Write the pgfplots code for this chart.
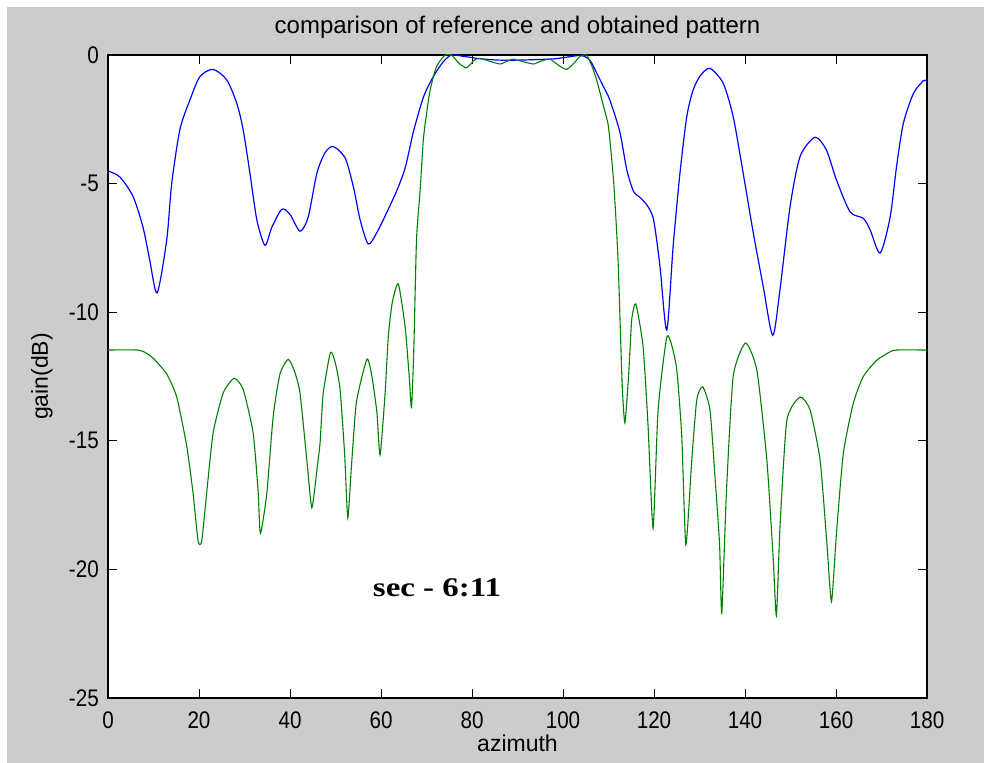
\documentclass[border=0pt]{standalone}
\usepackage{fontspec}
\setmainfont{Liberation Sans}
\newfontfamily\timesfont{Liberation Serif}[FakeStretch=1.22]
\newfontfamily\tickfont{Liberation Sans}[FakeStretch=0.86]
\usepackage{pgfplots}
\pgfplotsset{compat=1.18}
\definecolor{figgray}{RGB}{204,204,204}
\definecolor{mblue}{RGB}{0,0,255}
\definecolor{mgreen}{RGB}{0,128,0}
\begin{document}
\begin{tikzpicture}[x=1bp,y=1bp]
\fill[white] (0,0) rectangle (984,763);
\fill[figgray] (7,0) rectangle (984,756);
\begin{axis}[
  at={(108bp,65bp)}, anchor=south west,
  scale only axis, width=819bp, height=643bp,
  xmin=0, xmax=180, ymin=-25, ymax=0,
  xtick={0,20,...,180}, ytick={-25,-20,...,0},
  axis background/.style={fill=white},
  axis line style={black, line width=1.2pt},
  tick style={black, line width=1pt},
  major tick length=9bp,
  tick align=inside,
  tick pos=both,
  /pgf/number format/assume math mode=true,
  ticklabel style={font=\tickfont\fontsize{24bp}{27bp}\selectfont},
  xticklabel style={anchor=base, yshift=-31bp, inner sep=0pt},
  yticklabel style={anchor=east, xshift=-9bp, inner sep=0pt},
  title={comparison of reference and obtained pattern},
  title style={at={(axis description cs:0.5,1)}, anchor=base, yshift=16bp, inner sep=0pt, font=\fontsize{24bp}{28bp}\selectfont},
  xlabel={azimuth},
  xlabel style={at={(axis description cs:0.5,0)}, anchor=base, yshift=-54bp, inner sep=0pt, font=\fontsize{23bp}{26bp}\selectfont},
  ylabel={gain(dB)},
  ylabel style={at={(axis description cs:-0.0806,0.5)}, anchor=center, rotate=0, inner sep=0pt, font=\fontsize{23bp}{26bp}\selectfont},
  clip=true,
]
\addplot[mblue, line width=1.2pt, smooth, tension=0.45] coordinates {
(0,-4.51) (2.6,-4.74) (5.5,-5.5) (7.7,-6.7) (9.2,-8.0) (10.8,-9.25) (12.9,-7.2) (14.0,-5.0)
(15.8,-2.9) (18.0,-1.75) (20.2,-0.84) (23.1,-0.56) (26.1,-0.97) (28.3,-1.88) (29.7,-2.9)
(31.2,-4.6) (32.7,-6.4) (34.5,-7.4) (36.0,-6.7) (38.2,-6.0) (40.0,-6.2) (42.2,-6.85)
(44.0,-6.3) (45.9,-4.6) (47.7,-3.8) (49.5,-3.56) (52.1,-4.0) (53.9,-5.1) (55.4,-6.4)
(57.2,-7.35) (59.1,-6.9) (61.2,-6.15) (63.4,-5.3) (65.3,-4.4) (67.1,-3.0) (69.3,-1.65)
(71.5,-0.84) (73.7,-0.26) (75.5,0) (78,-0.05) (82,-0.15) (86,-0.2) (90,-0.2) (94,-0.18)
(98,-0.15) (101,-0.08) (104,-0.02) (105.9,-0.2) (107.4,-0.7) (108.8,-1.2) (110.3,-1.75)
(112.5,-3.0) (114.0,-4.45) (115.5,-5.3) (117.0,-5.55) (118.5,-5.85)
(119.9,-6.4) (121.3,-8.2) (122.8,-10.7) (124.2,-7.45) (125.7,-4.6) (127.2,-2.4)
(128.6,-1.36) (130.2,-0.8) (132.3,-0.52) (135.2,-1.1) (137.4,-2.4) (139.6,-4.6)
(141.8,-6.9) (144.0,-9.0) (146.1,-10.9) (147.7,-9.1) (149.9,-5.9) (152.1,-3.95)
(155.4,-3.2) (157.9,-3.7) (160.1,-4.86) (163.1,-6.1) (166.0,-6.35) (167.5,-6.8)
(169.7,-7.7) (171.9,-6.3) (173.3,-4.34) (174.8,-2.66) (177.0,-1.5) (179.2,-1.0) (180,-1.0)
};
\addplot[mgreen, line width=1.1pt, smooth, tension=0.35] coordinates {
(0,-11.47) (6.3,-11.47) (8,-11.55) (10.0,-11.8) (12.9,-12.4) (15.1,-13.3) (17.3,-15.2)
(18.7,-17.05) (19.8,-18.9) (20.6,-18.9) (21.7,-17.0) (23.1,-14.7) (25.3,-13.15)
(27.7,-12.57) (29.7,-13.0) (31.9,-14.7) (33.0,-17.0) (33.5,-18.6) (34.9,-17.05)
(36.3,-14.06) (37.8,-12.4) (39.6,-11.83) (41.0,-12.3) (42.2,-13.15) (43.7,-15.75)
(44.8,-17.6) (46.0,-16.0) (46.6,-15.1) (47.3,-13.15) (48.9,-11.56) (50.0,-12.0)
(51.0,-13.0) (52.0,-15.5) (52.7,-18.0) (53.5,-16.0) (54.6,-13.5) (56.9,-11.83)
(58.0,-12.5) (59.1,-13.9) (59.8,-15.55) (60.9,-13.15) (61.6,-10.95) (62.5,-9.6)
(63.8,-8.9) (65.3,-10.56) (66.2,-12.5) (66.7,-13.7) (67.2,-11.5) (67.8,-7.2)
(68.6,-5.25) (69.3,-3.3) (70.0,-2.3) (70.8,-1.36) (72.2,-0.45) (74.1,0) (75.5,0)
(77,-0.3) (78.8,-0.5) (80.5,-0.2) (81.8,-0.13) (84,-0.25) (86.2,-0.35) (88,-0.22)
(89.1,-0.16) (91,-0.25) (93.5,-0.35) (95,-0.25) (97.1,-0.16) (99,-0.4) (100.8,-0.56)
(102.5,-0.3) (103.7,-0.06) (105.2,0) (106.5,-0.5) (107.4,-0.97) (108.9,-2.0)
(110.0,-2.8) (111.1,-4.86) (111.8,-6.9) (112.2,-8.45) (113.0,-12.8) (113.6,-14.3)
(114.4,-12.5) (115.1,-10.3) (116.0,-9.68) (117.6,-11.34) (118.7,-14.45) (119.8,-18.4)
(120.9,-13.8) (122.9,-10.93) (124.9,-12.1) (126.1,-14.84) (127.0,-19.05) (128.3,-15.75)
(129.4,-13.4) (130.7,-12.9) (132.3,-13.8) (133.4,-16.4) (134.4,-19.0) (134.9,-21.7)
(135.9,-17.05) (137.4,-12.5) (140.1,-11.2) (142.6,-12.25) (144.8,-15.75) (146.2,-19.6)
(146.9,-21.8) (147.7,-18.3) (149.2,-14.2) (152.1,-13.3) (154.3,-13.8) (156.5,-15.75)
(158.0,-19.0) (159.0,-21.25) (160.1,-18.6) (161.6,-15.5) (163.8,-13.54) (166.0,-12.5)
(169.0,-11.86) (171.9,-11.54) (173.3,-11.47) (180,-11.47)
};
\node[font=\timesfont\bfseries\fontsize{27bp}{30bp}\selectfont, anchor=center] at (axis cs:72.3,-20.7) {sec - 6:11};
\end{axis}
\end{tikzpicture}
\end{document}
